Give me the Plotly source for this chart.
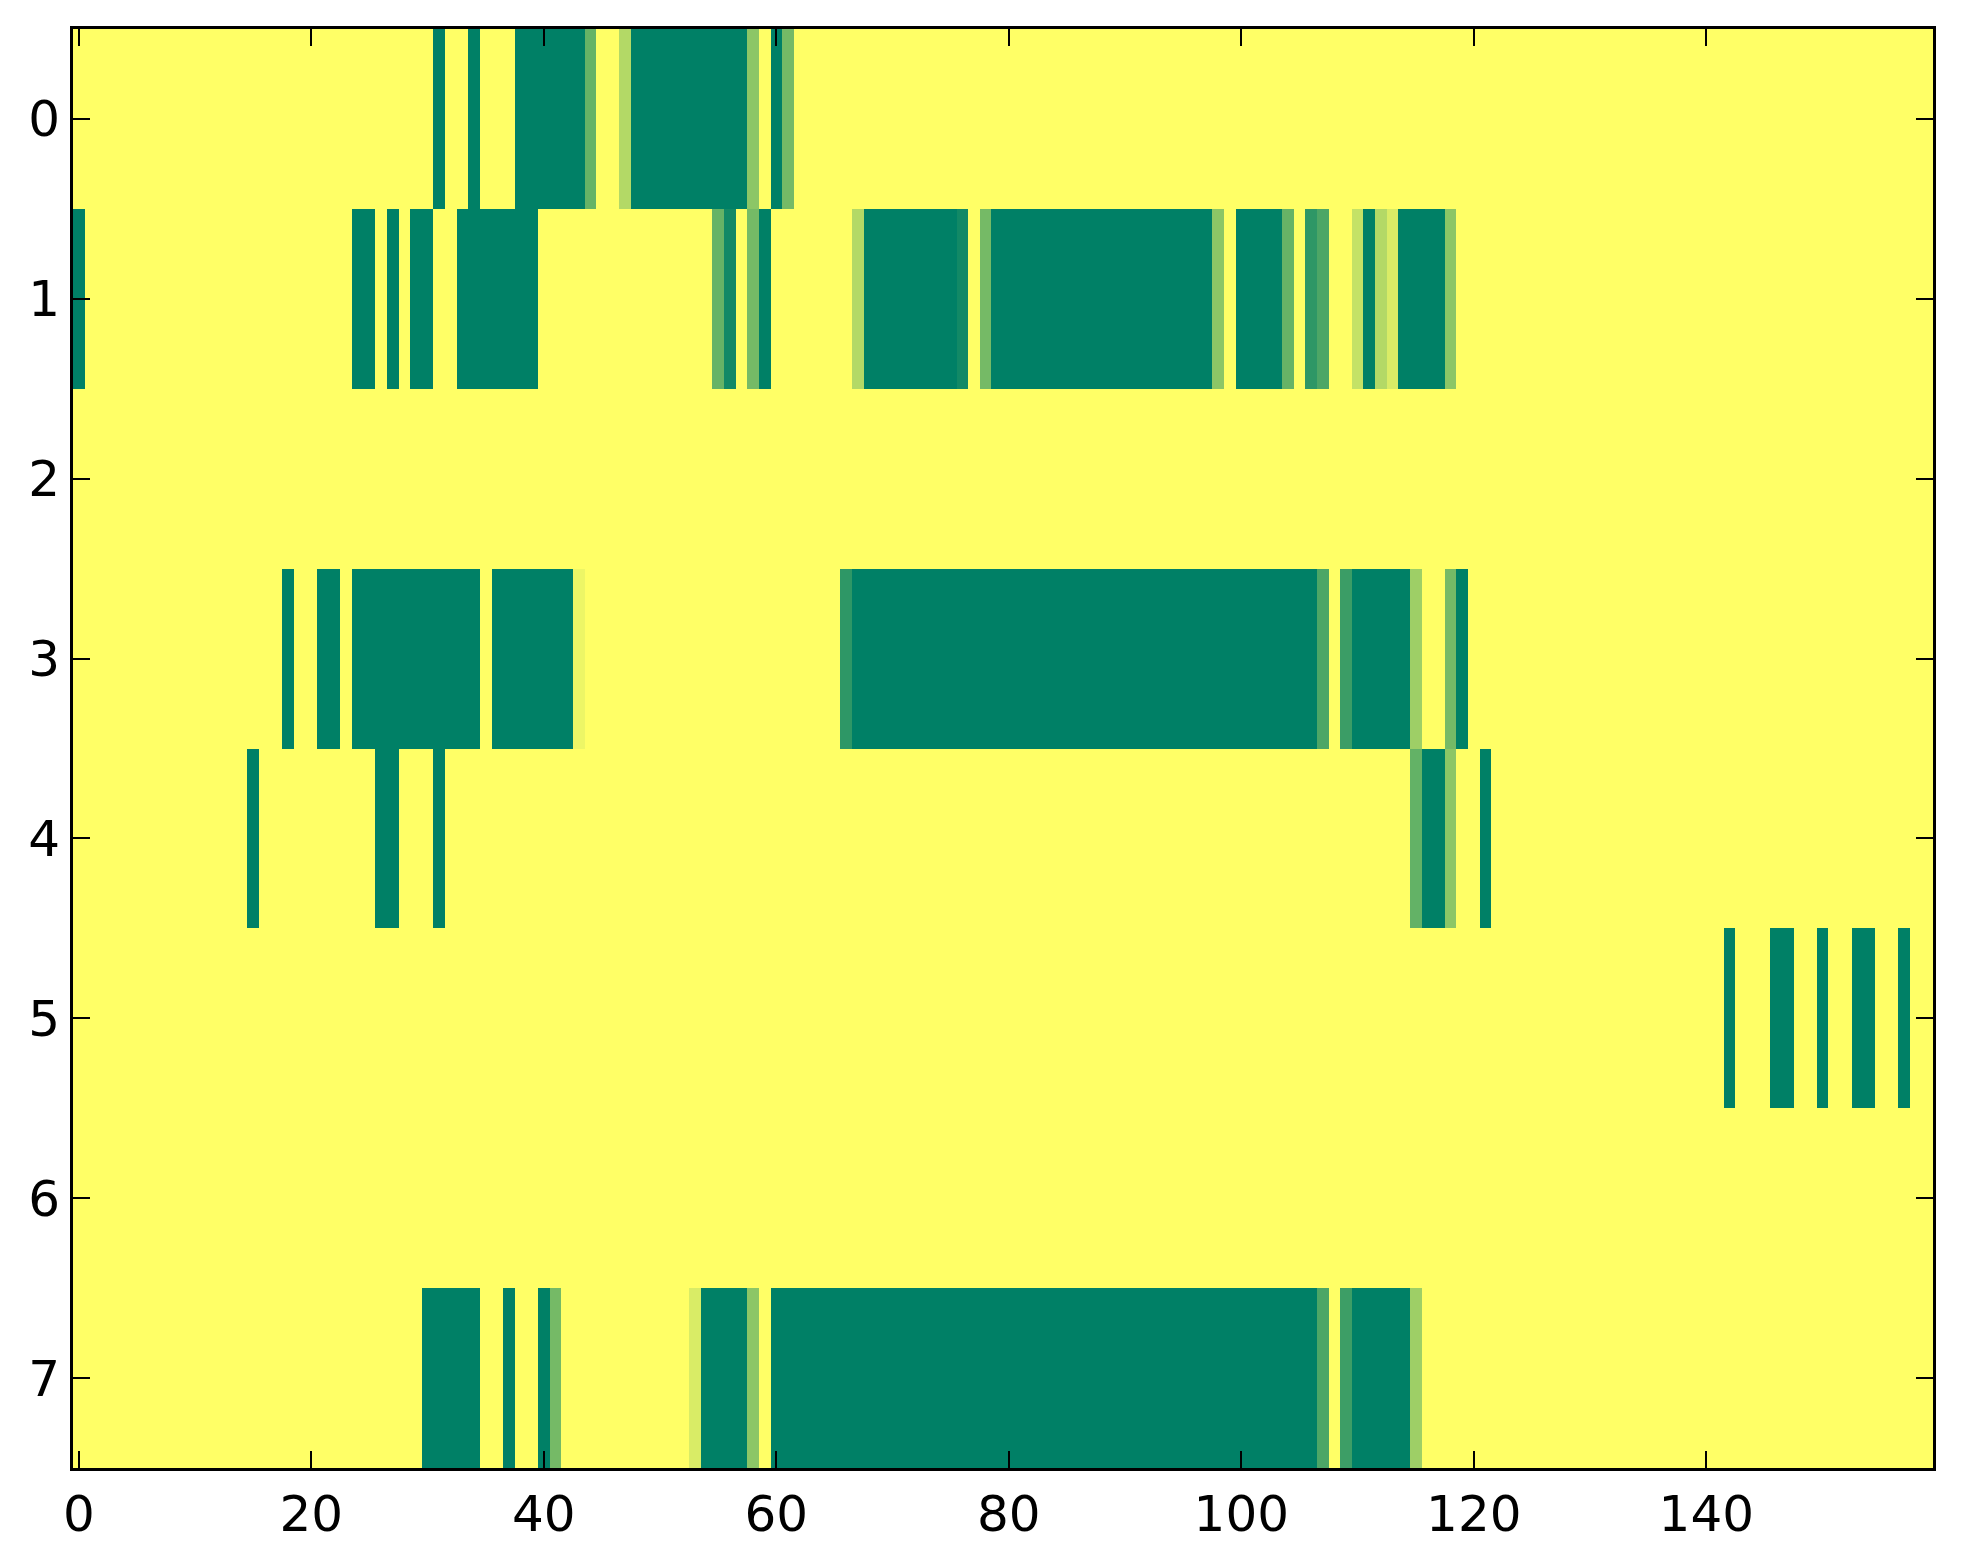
import numpy as np
import plotly.graph_objects as go

# Grid size (rows x columns)
n_rows = 8
n_cols = 160

# Each row: list of (first_col, last_col, value) runs; all other cells are 0
row_0 = [(31, 31, 1), (34, 34, 1), (38, 43, 1), (44, 44, 0.6), (47, 47, 0.3),
         (48, 57, 1), (58, 58, 0.45), (60, 60, 1), (61, 61, 0.54)]
row_1 = [(0, 0, 1), (24, 25, 1), (27, 27, 1), (29, 30, 1), (33, 39, 1),
         (55, 55, 0.6), (56, 56, 0.93), (58, 58, 0.54), (59, 59, 1), (67, 67, 0.3),
         (68, 75, 1), (76, 76, 0.93), (78, 78, 0.54), (79, 97, 1), (98, 98, 0.45),
         (100, 103, 1), (104, 104, 0.6), (106, 106, 0.82), (107, 107, 0.7),
         (110, 110, 0.23), (111, 111, 1), (112, 112, 0.3), (113, 113, 0.15),
         (114, 117, 1), (118, 118, 0.45)]
row_2 = []
row_3 = [(18, 18, 1), (21, 22, 1), (24, 34, 1), (36, 42, 1), (43, 43, 0.07),
         (66, 66, 0.82), (67, 106, 1), (107, 107, 0.7), (109, 109, 0.77),
         (110, 114, 1), (115, 115, 0.38), (118, 118, 0.54), (119, 119, 1)]
row_4 = [(15, 15, 1), (26, 27, 1), (31, 31, 1), (115, 115, 0.61), (116, 117, 1),
         (118, 118, 0.45), (121, 121, 1)]
row_5 = [(142, 142, 1), (146, 147, 1), (150, 150, 1), (153, 154, 1), (157, 157, 1)]
row_6 = []
row_7 = [(30, 34, 1), (37, 37, 1), (40, 40, 1), (41, 41, 0.54), (53, 53, 0.15),
         (54, 57, 1), (58, 58, 0.45), (60, 106, 1), (107, 107, 0.7),
         (109, 109, 0.76), (110, 114, 1), (115, 115, 0.38)]

rows = [row_0, row_1, row_2, row_3, row_4, row_5, row_6, row_7]

x_ticks = [0, 20, 40, 60, 80, 100, 120, 140]
y_ticks = [0, 1, 2, 3, 4, 5, 6, 7]

z = np.zeros((n_rows, n_cols))
for r, runs in enumerate(rows):
    for a, b, v in runs:
        z[r, a:b + 1] = v

# matplotlib "summer_r" colormap (linear in RGB)
summer_r = [[0.0, "rgb(255,255,102)"], [1.0, "rgb(0,128,102)"]]

fig = go.Figure(go.Heatmap(
    z=z,
    x=list(range(n_cols)),
    y=list(range(n_rows)),
    colorscale=summer_r,
    zmin=0, zmax=1,
    showscale=False,
))

axis_common = dict(
    showline=True, linecolor="black", linewidth=3, mirror="ticks",
    ticks="inside", ticklen=17, tickwidth=2, tickcolor="black",
    showgrid=False, zeroline=False,
    tickfont=dict(family="DejaVu Sans", size=50, color="black"),
)

# page body has an 8px default margin; compensate so the plot lands where it should
fig.update_layout(
    width=1955, height=1556,
    margin=dict(l=65, r=30, t=21, b=96),
    paper_bgcolor="white", plot_bgcolor="white",
    xaxis=dict(range=[-0.5, n_cols - 0.5], tickvals=x_ticks,
               ticktext=[str(t) for t in x_ticks], **axis_common),
    yaxis=dict(range=[n_rows - 0.5, -0.5], tickvals=y_ticks,
               ticktext=[str(t) for t in y_ticks], **axis_common),
)

fig.write_html("out.html")
